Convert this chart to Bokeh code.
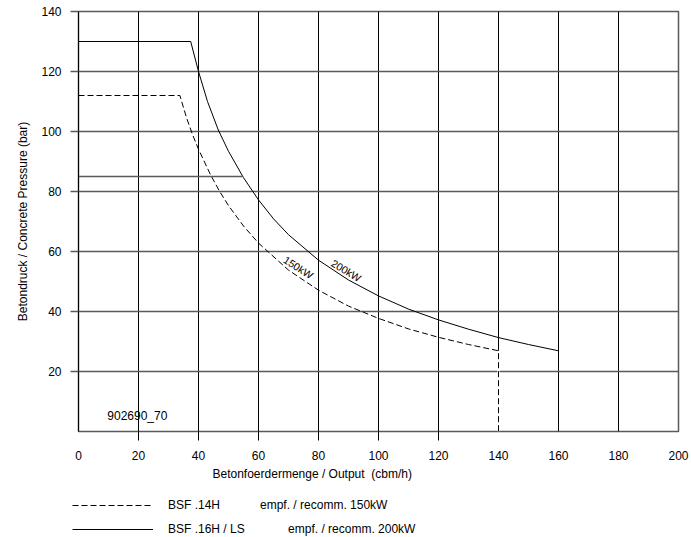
from bokeh.plotting import figure
from bokeh.layouts import column
from bokeh.models import Range1d, FixedTicker, Label, Legend, LegendItem, Title
from bokeh.embed import file_html
from bokeh.resources import INLINE

# ---- data -------------------------------------------------------------
x_ticks = [0, 20, 40, 60, 80, 100, 120, 140, 160, 180, 200]
x_tick_marks = [20, 40, 60, 80, 100, 120]
x_grid = [0, 20, 40, 60, 80, 100, 120, 140, 160, 180, 200]
y_ticks = [20, 40, 60, 80, 100, 120, 140]

# BSF .14H  (150 kW, dashed)
q_150 = [0, 33.8, 36, 38, 40, 44, 47, 50, 55, 60, 70, 80, 90, 100, 110, 120, 130, 140, 140]
p_150 = [112, 112, 104.6, 99, 94.1, 85.6, 80.1, 75.3, 68.5, 62.8, 53.8, 47.1, 41.8, 37.7, 34.2, 31.4, 29, 26.9, 0]

# BSF .16H / LS  (200 kW, solid)
q_200 = [0, 37.4, 40, 43, 46.6, 50, 55, 60, 65, 70, 80, 90, 100, 110, 120, 130, 140, 150, 160]
p_200 = [130, 130, 120, 110, 100.5, 93.4, 84.6, 77.2, 70.9, 65.6, 57.1, 50.5, 45.2, 40.8, 37.2, 34.1, 31.3, 29, 26.9]

# 85 bar limit line
q_85 = [0, 54.6]
p_85 = [85, 85]

legend_labels = ["BSF .14H", "BSF .16H / LS"]
legend_notes = ["empf. / recomm. 150kW", "empf. / recomm. 200kW"]

FONT = "Liberation Sans"
GRID_H = "#5a5a5a"
NB = "\u00a0"

p = figure(width=691, height=485, output_backend="svg", toolbar_location=None,
           x_range=Range1d(0, 200), y_range=Range1d(0, 140),
           min_border_left=78, min_border_right=13, min_border_top=11, min_border_bottom=54,
           background_fill_color="white", border_fill_color="white")

p.outline_line_color = GRID_H
p.outline_line_width = 1.5

# grids
p.xgrid.ticker = FixedTicker(ticks=x_grid)
p.xgrid.grid_line_color = "black"
p.xgrid.grid_line_width = 1
p.ygrid.ticker = FixedTicker(ticks=y_ticks)
p.ygrid.grid_line_color = GRID_H
p.ygrid.grid_line_width = 1.5

# y axis
ya = p.yaxis[0]
ya.ticker = FixedTicker(ticks=y_ticks)
ya.axis_line_color = "black"
ya.major_tick_in = 0
ya.major_tick_out = 8
ya.major_tick_line_color = GRID_H
ya.major_tick_line_width = 1.5
ya.minor_tick_line_color = None
ya.major_label_standoff = 9
ya.major_label_text_font = FONT
ya.major_label_text_font_size = "12px"
ya.major_label_text_color = "black"
ya.axis_label = "Betondruck / Concrete Pressure (bar)"
ya.axis_label_text_font = FONT
ya.axis_label_text_font_size = "12px"
ya.axis_label_text_font_style = "normal"
ya.axis_label_text_color = "black"
ya.axis_label_standoff = 8

# x axis: labels at every 20, short tick marks (minor ticks) only up to 120
xa = p.xaxis[0]
xa.ticker = FixedTicker(ticks=x_ticks, minor_ticks=x_tick_marks)
xa.axis_line_color = None
xa.major_tick_line_color = None
xa.major_tick_in = 0
xa.major_tick_out = 0
xa.minor_tick_in = 0
xa.minor_tick_out = 9
xa.minor_tick_line_color = "black"
xa.major_label_standoff = 10
xa.major_label_text_font = FONT
xa.major_label_text_font_size = "12px"
xa.major_label_text_color = "black"

# x axis title
xt = Title(text="Betonfoerdermenge / Output " + NB + "(cbm/h)", align="left", offset=134,
           text_font=FONT, text_font_size="12px", text_font_style="normal",
           text_color="black", standoff=5)
p.add_layout(xt, "below")

# where the 150 kW curve drops vertically, the dashed line replaces the grid line
p.line([q_150[-1], q_150[-1]], [p_150[-1], p_150[-2]], line_color="white", line_width=2)

# curves
r150 = p.line(q_150, p_150, line_color="black", line_width=1, line_dash="6 3")
r200 = p.line(q_200, p_200, line_color="black", line_width=1)
p.line(q_85, p_85, line_color=GRID_H, line_width=1.5)

# texts inside the plot
p.add_layout(Label(x=73.3, y=54.7, text="150kW", angle=-0.56, text_align="center",
                   text_baseline="middle", text_font=FONT, text_font_size="10.5px",
                   text_color="black"))
p.add_layout(Label(x=89.3, y=53.7, text="200kW", angle=-0.54, text_align="center",
                   text_baseline="middle", text_font=FONT, text_font_size="10.5px",
                   text_color="black"))
p.add_layout(Label(x=9.6, y=5.3, text="902690_70", text_align="left",
                   text_baseline="middle", text_font=FONT, text_font_size="12px",
                   text_color="black"))

# ---- legend strip ------------------------------------------------------
lg = figure(width=691, height=52, output_backend="svg", toolbar_location=None,
            x_range=Range1d(0, 1), y_range=Range1d(0, 1),
            min_border_left=0, min_border_right=0, min_border_top=0, min_border_bottom=0,
            x_axis_location=None, y_axis_location=None,
            background_fill_color="white", border_fill_color="white")
lg.outline_line_color = None
lg.xgrid.visible = False
lg.ygrid.visible = False

# legend left edge relative to the strip's frame
leg_x = 72
if "frame_align" in lg.properties():
    lg.frame_align = False
else:
    leg_x = -6

# stand-in renderers (outside the strip's range) carrying the legend line styles
d150 = lg.line([2, 3], [2, 3], line_color="black", line_width=1, line_dash="6 3")
d200 = lg.line([2, 3], [2, 3], line_color="black", line_width=1)

legend = Legend(items=[LegendItem(label=legend_labels[0] + NB * 12 + legend_notes[0], renderers=[d150]),
                       LegendItem(label=legend_labels[1] + NB * 13 + legend_notes[1], renderers=[d200])],
                location=(leg_x, 0), orientation="vertical",
                glyph_width=81, glyph_height=16, label_height=16, label_standoff=15,
                spacing=8, padding=0, margin=0, border_line_color=None,
                background_fill_alpha=0, label_text_font=FONT,
                label_text_font_size="12px", label_text_color="black")
lg.add_layout(legend)

layout = column(p, lg, spacing=0)
open("out.html", "w").write(file_html(layout, INLINE))
